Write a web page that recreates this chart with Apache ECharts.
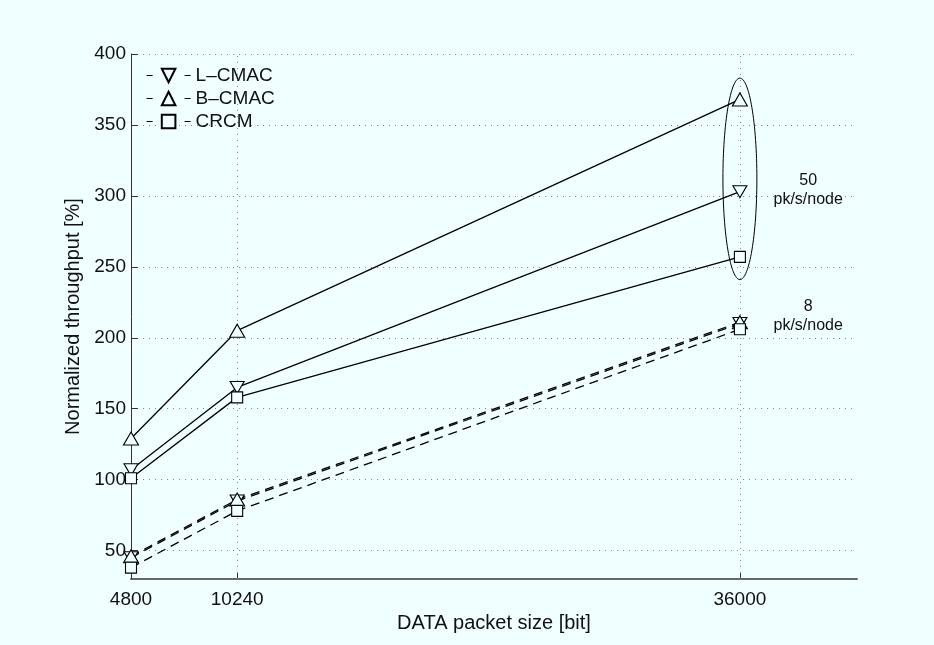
<!DOCTYPE html>
<html>
<head>
<meta charset="utf-8">
<script src="https://cdn.jsdelivr.net/npm/echarts@6/dist/echarts.min.js"></script>
<style>
  html, body { margin: 0; padding: 0; background: #f0ffff; }
  #chart { width: 934px; height: 645px; }
</style>
</head>
<body>
<div id="chart"></div>
<script>
// packet sizes on the x axis
const packetSizes = [4800, 10240, 36000]
const xTicks = [4800, 10240, 36000]
const xGrid = [10240, 36000]
const yTicks = [50, 100, 150, 200, 250, 300, 350, 400]

// 50 pk/s/node (solid lines)
const lcmac50 = [107, 165, 303]
const bcmac50 = [129, 205, 368]
const crcm50 = [101, 158, 257]

// 8 pk/s/node (dashed lines)
const lcmac8 = [45, 85, 210]
const bcmac8 = [46, 86, 211]
const crcm8 = [38, 78, 206]

const names = ['L–CMAC', 'B–CMAC', 'CRCM']

// annotations, in data units
const ellipseCenter = [36000, 312]
const ellipseRadius = [870, 71]
const notes = [
  { text: '50\npk/s/node', at: [39500, 304] },
  { text: '8\npk/s/node', at: [39500, 215] }
]

const bg = '#f0ffff'
const font = '"Liberation Sans", Arial, Helvetica, sans-serif'
const gridLine = { color: '#888', type: [1, 5], width: 1 }

function pairs(ys) {
  return packetSizes.map((x, i) => [x, ys[i]])
}

const markers = {
  'L–CMAC': { symbol: 'triangle', symbolRotate: 180, symbolSize: [14, 12] },
  'B–CMAC': { symbol: 'triangle', symbolRotate: 0, symbolSize: [15, 13] },
  'CRCM': { symbol: 'rect', symbolRotate: 0, symbolSize: 11 }
}

function makeSeries(name, ys, dashed) {
  const m = markers[name]
  return {
    type: 'line',
    name: name,
    data: pairs(ys),
    symbol: m.symbol,
    symbolRotate: m.symbolRotate,
    symbolSize: m.symbolSize,
    showAllSymbol: true,
    animation: false,
    lineStyle: { color: '#000', width: 1.3, type: dashed ? [9, 6] : 'solid' },
    itemStyle: { color: bg, borderColor: '#000', borderWidth: 1.1 },
    emphasis: { disabled: true }
  }
}

let myChart = echarts.init(document.getElementById('chart'))

let series = [
  makeSeries('L–CMAC', lcmac8, true),
  makeSeries('B–CMAC', bcmac8, true),
  makeSeries('CRCM', crcm8, true),
  makeSeries('L–CMAC', lcmac50, false),
  makeSeries('B–CMAC', bcmac50, false),
  makeSeries('CRCM', crcm50, false)
]
// vertical dotted grid lines at the x ticks
series[0].markLine = {
  silent: true,
  symbol: 'none',
  label: { show: false },
  lineStyle: gridLine,
  z: 1,
  data: xGrid.map(v => ({ xAxis: v }))
}

let option = {
  backgroundColor: bg,
  animation: false,
  textStyle: { fontFamily: font },
  grid: { left: 131, right: 77, top: 54, bottom: 66, containLabel: false },
  legend: {
    data: names,
    orient: 'vertical',
    left: 141,
    top: 61,
    itemWidth: 44,
    itemHeight: 17,
    itemGap: 4,
    lineStyle: { type: [6, 32], width: 1.2 },
    textStyle: { fontSize: 19, color: '#111', fontFamily: font },
    selectedMode: false
  },
  xAxis: {
    type: 'value',
    min: 4800,
    max: 42000,
    name: 'DATA packet size [bit]',
    nameLocation: 'middle',
    nameGap: 34,
    nameTextStyle: { fontSize: 20, color: '#111', fontFamily: font },
    axisLine: { lineStyle: { color: '#666', width: 2 } },
    axisTick: { inside: true, length: 7, customValues: xTicks, lineStyle: { color: '#333' } },
    axisLabel: {
      customValues: xTicks,
      formatter: v => String(v),
      fontSize: 19,
      color: '#111',
      margin: 11,
      fontFamily: font
    },
    splitLine: { show: false }
  },
  yAxis: {
    type: 'value',
    min: 30,
    max: 400,
    name: 'Normalized throughput [%]',
    nameLocation: 'middle',
    nameGap: 48,
    nameTextStyle: { fontSize: 20, color: '#111', fontFamily: font },
    axisLine: { show: true, lineStyle: { color: '#333', width: 1 } },
    axisTick: { show: true, inside: true, length: 7, customValues: yTicks, lineStyle: { color: '#333' } },
    axisLabel: { customValues: yTicks, fontSize: 19, color: '#111', margin: 5, fontFamily: font },
    splitLine: { show: true, lineStyle: gridLine }
  },
  series: series
}

myChart.setOption(option)

// annotations placed from data coordinates
const c = myChart.convertToPixel({ gridIndex: 0 }, ellipseCenter)
const edge = myChart.convertToPixel({ gridIndex: 0 },
  [ellipseCenter[0] + ellipseRadius[0], ellipseCenter[1] + ellipseRadius[1]])

const graphics = [{
  type: 'ellipse',
  shape: { cx: c[0], cy: c[1], rx: Math.abs(edge[0] - c[0]), ry: Math.abs(c[1] - edge[1]) },
  style: { fill: null, stroke: '#000', lineWidth: 1 },
  z: 10
}]
notes.forEach(n => {
  const p = myChart.convertToPixel({ gridIndex: 0 }, n.at)
  graphics.push({
    type: 'text',
    x: p[0],
    y: p[1],
    style: {
      text: n.text,
      fontSize: 16,
      lineHeight: 19,
      fontFamily: font,
      fill: '#111',
      align: 'center',
      verticalAlign: 'middle'
    },
    z: 10
  })
})
myChart.setOption({ graphic: graphics })
</script>
</body>
</html>
